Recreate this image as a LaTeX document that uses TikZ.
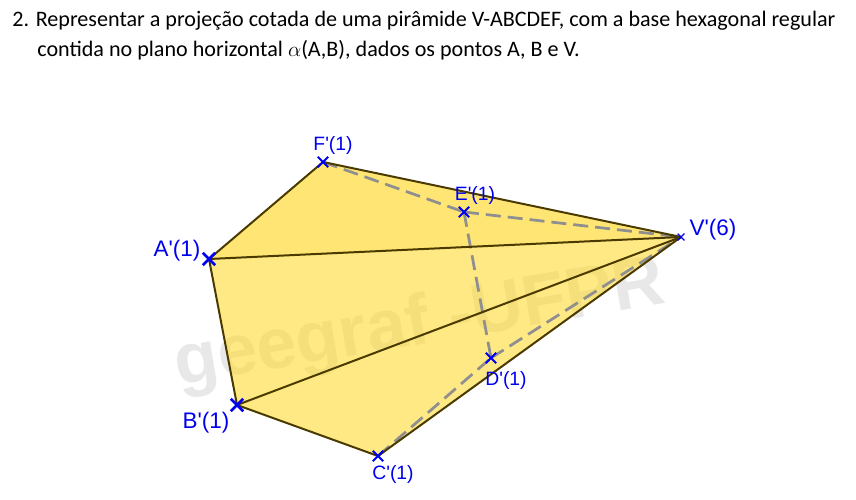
\documentclass[tikz,border=0pt]{standalone}
\usepackage{fontspec}
\setmainfont{Carlito}
\newfontfamily\labelfont{Liberation Sans}
\usepackage{amsmath}
\usetikzlibrary{positioning}
\usetikzlibrary{shapes.misc}
\definecolor{faceyellow}{HTML}{FFDA32}
\definecolor{edgecol}{HTML}{4A3A00}
\definecolor{markblue}{HTML}{0000F0}
\definecolor{hiddencol}{HTML}{8F8F8F}
\tikzset{
  vertexbig/.style={cross out,draw=markblue,line width=0.5mm,inner sep=0pt,minimum size=0.2cm},
  vertexsmall/.style={cross out,draw=markblue,line width=0.36mm,inner sep=0pt,minimum size=0.17cm},
  vertextiny/.style={cross out,draw=markblue,line width=0.25mm,inner sep=0pt,minimum size=0.11cm},
  edgeline/.style={edgecol,line width=0.4mm},
  hiddenline/.style={hiddencol,line width=0.55mm,dash pattern=on 0.3cm off 0.14cm},
  vertexlabel/.style={text=markblue,font=\labelfont\fontsize{11pt}{11pt}\selectfont,inner sep=0pt},
  vertexlabelbig/.style={text=markblue,font=\labelfont\fontsize{12.8pt}{13pt}\selectfont,inner sep=0pt},
  titleline/.style={anchor=base west,font=\fontsize{12.58pt}{13pt}\selectfont,inner sep=0pt}
}
\begin{document}
\begin{tikzpicture}[x=0.02cm,y=-0.02cm]
\useasboundingbox (0,0) rectangle (856,500);

% title
\node[titleline] (lineone) at (12,27) {2. Representar a projeção cotada de uma pirâmide V-ABCDEF, com a base hexagonal regular};
\node[titleline] (linetwo) at (37,57) {contida no plano horizontal $\alpha$(A,B), dados os pontos A, B e V.};

% vertices
\coordinate (a) at (209,259);
\coordinate (b) at (237,405);
\coordinate (c) at (378,456);
\coordinate (d) at (491,358);
\coordinate (e) at (464,212);
\coordinate (f) at (323,162);
\coordinate (v) at (681,237);

% watermark
\node[rotate=9.5,text=black!9,font=\labelfont\bfseries\fontsize{40.7pt}{41pt}\selectfont,inner sep=0pt] (mark) at (420,326) {geegraf -UFPR};

% faces
\fill[faceyellow, opacity=0.6] (a)--(f)--(v)--(c)--(b)--cycle;
\fill[faceyellow, opacity=0.2] (a)--(f)--(v)--cycle;

% hidden edges
\draw[hiddenline] (f)--(e);
\draw[hiddenline] (e)--(v);
\draw[hiddenline] (e)--(d);
\draw[hiddenline] (c)--(d);
\draw[hiddenline] (d)--(v);

% outline and visible edges
\draw[edgeline] (a)--(f);
\draw[edgeline] (f)--(v);
\draw[edgeline] (a)--(v);
\draw[edgeline] (a)--(b);
\draw[edgeline] (b)--(v);
\draw[edgeline] (b)--(c);
\draw[edgeline] (c)--(v);

% crosses
\node[vertexbig] (A) at (a) {};
\node[vertexbig] (B) at (b) {};
\node[vertexsmall] (C) at (c) {};
\node[vertexsmall] (D) at (d) {};
\node[vertexsmall] (E) at (e) {};
\node[vertexsmall] (F) at (f) {};
\node[vertextiny] (V) at (v) {};

% nodes
\node[vertexlabelbig] (labA) at (177,251) {A'(1)};
\node[vertexlabelbig] (labB) at (206,423) {B'(1)};
\node[vertexlabel] (labC) at (393,474) {C'(1)};
\node[vertexlabel] (labD) at (506,380) {D'(1)};
\node[vertexlabel] (labE) at (475,195) {E'(1)};
\node[vertexlabel] (labF) at (333,145) {F'(1)};
\node[vertexlabelbig] (labV) at (713,230) {V'(6)};

\end{tikzpicture}
\end{document}
